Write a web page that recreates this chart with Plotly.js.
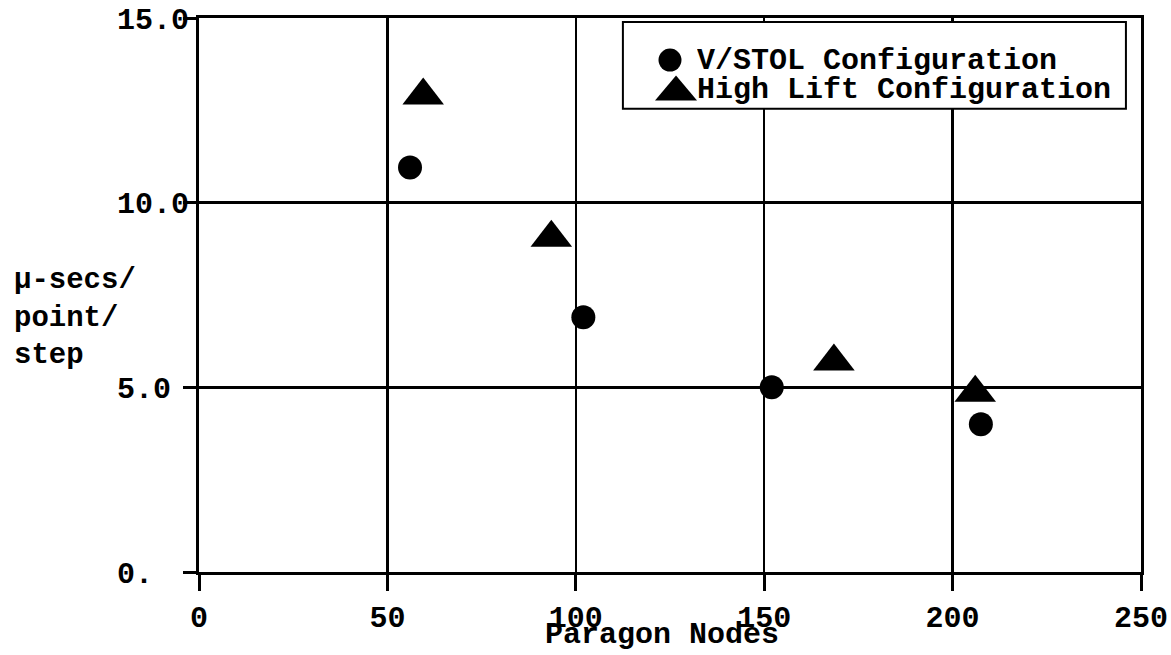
<!DOCTYPE html>
<html>
<head>
<meta charset="utf-8">
<script src="https://cdn.plot.ly/plotly-3.0.1.min.js"></script>
<style>
  html, body { margin: 0; padding: 0; background: #fff; }
  #chart { width: 1171px; height: 655px; }
</style>
</head>
<body>
<div id="chart"></div>
<script>
// ---- data ----
const seriesNames = ["V/STOL Configuration", "High Lift Configuration"];
const vstolNodes = [56, 102, 152, 207.5];
const vstolTime = [10.95, 6.9, 5.0, 4.0];
const highLiftNodes = [59.5, 93.5, 168.5, 206];
const highLiftTime = [12.9, 9.05, 5.7, 4.85];
const xTickVals = [0, 50, 100, 150, 200, 250];
const xTickText = ["0", "50", "100", "150", "200", "250"];
const yTickVals = [0, 5, 10, 15];
const yTickText = ["0.\u00a0\u00a0", "5.0\u00a0", "10.0", "15.0"];
const xRange = [0, 250];
const yRange = [0, 15];
const xTitle = "Paragon Nodes";
const yTitleLines = ["\u03bc-secs/", "point/", "step"];

const FONT = "Liberation Mono, Courier New, monospace";
const baseFont = { family: FONT, size: 30, color: "#000", weight: "bold" };

const traces = [
  {
    x: vstolNodes, y: vstolTime, name: seriesNames[0], type: "scatter", mode: "markers",
    marker: { symbol: "circle", size: 24, color: "#000" }, showlegend: false, cliponaxis: false
  },
  {
    x: highLiftNodes, y: highLiftTime, name: seriesNames[1], type: "scatter", mode: "markers",
    marker: { symbol: "triangle-up", size: 36, color: "#000" }, showlegend: false, cliponaxis: false
  },
  // empty trace that only carries the tick marks of the overlay y axis
  { x: [], y: [], type: "scatter", mode: "markers", xaxis: "x", yaxis: "y2", showlegend: false, hoverinfo: "skip" }
];

const layout = {
  width: 1171, height: 655,
  margin: { l: 199, r: 30, t: 18, b: 83 },
  paper_bgcolor: "#fff", plot_bgcolor: "#fff",
  font: baseFont,
  showlegend: false,
  xaxis: {
    range: xRange, tickvals: xTickVals, ticktext: xTickText,
    showgrid: true, gridcolor: "#000", gridwidth: 2.5,
    zeroline: false, showline: true, linecolor: "#000", linewidth: 3, mirror: true,
    ticks: "outside", ticklen: 16, tickwidth: 3, tickcolor: "#000",
    tickfont: baseFont,
    automargin: false, fixedrange: true
  },
  yaxis: {
    range: yRange, tickvals: yTickVals, ticktext: yTickText,
    showgrid: true, gridcolor: "#000", gridwidth: 2.5,
    zeroline: false, showline: true, linecolor: "#000", linewidth: 3, mirror: true,
    ticks: "outside", ticklen: 1, tickwidth: 1, tickcolor: "rgba(0,0,0,0)",
    tickfont: baseFont,
    automargin: false, fixedrange: true
  },
  yaxis2: {
    overlaying: "y", anchor: "x", side: "left",
    range: yRange, tickvals: yTickVals, showticklabels: false,
    showgrid: false, zeroline: false, showline: false,
    ticks: "outside", ticklen: 15, tickwidth: 3, tickcolor: "#000",
    automargin: false, fixedrange: true
  },
  shapes: [
    // legend box
    { type: "rect", xref: "paper", yref: "paper", x0: 0.450, x1: 0.984, y0: 0.836, y1: 0.993,
      line: { color: "#000", width: 2 }, fillcolor: "#fff", layer: "above" },
    // legend symbol: circle
    { type: "circle", xref: "paper", yref: "paper", xsizemode: "pixel", ysizemode: "pixel",
      xanchor: 0.5, yanchor: 0.924, x0: -11.5, x1: 11.5, y0: -11.5, y1: 11.5,
      fillcolor: "#000", line: { width: 0 }, layer: "above" },
    // legend symbol: triangle
    { type: "path", xref: "paper", yref: "paper", xsizemode: "pixel", ysizemode: "pixel",
      xanchor: 0.5064, yanchor: 0.8736, path: "M-21,-12.5 L21,-12.5 L0,12.5 Z",
      fillcolor: "#000", line: { width: 0 }, layer: "above" }
  ],
  annotations: [
    { xref: "paper", yref: "paper", x: 0.527, y: 0.922, xanchor: "left", yanchor: "middle",
      text: seriesNames[0], showarrow: false, font: baseFont, height: 28, valign: "middle" },
    { xref: "paper", yref: "paper", x: 0.527, y: 0.8696, xanchor: "left", yanchor: "middle",
      text: seriesNames[1], showarrow: false, font: baseFont, height: 28, valign: "middle" },
    { xref: "paper", yref: "paper", x: -0.199, y: 0.458, xanchor: "left", yanchor: "middle",
      align: "left", text: yTitleLines.join("<br>"), showarrow: false,
      font: { family: FONT, size: 29, color: "#000", weight: "bold" } },
    { xref: "paper", yref: "paper", x: 0.4915, y: -0.113, xanchor: "center", yanchor: "middle",
      text: xTitle, showarrow: false, font: baseFont, height: 30, valign: "middle" }
  ]
};

Plotly.newPlot("chart", traces, layout, { staticPlot: true, displayModeBar: false });
</script>
</body>
</html>
